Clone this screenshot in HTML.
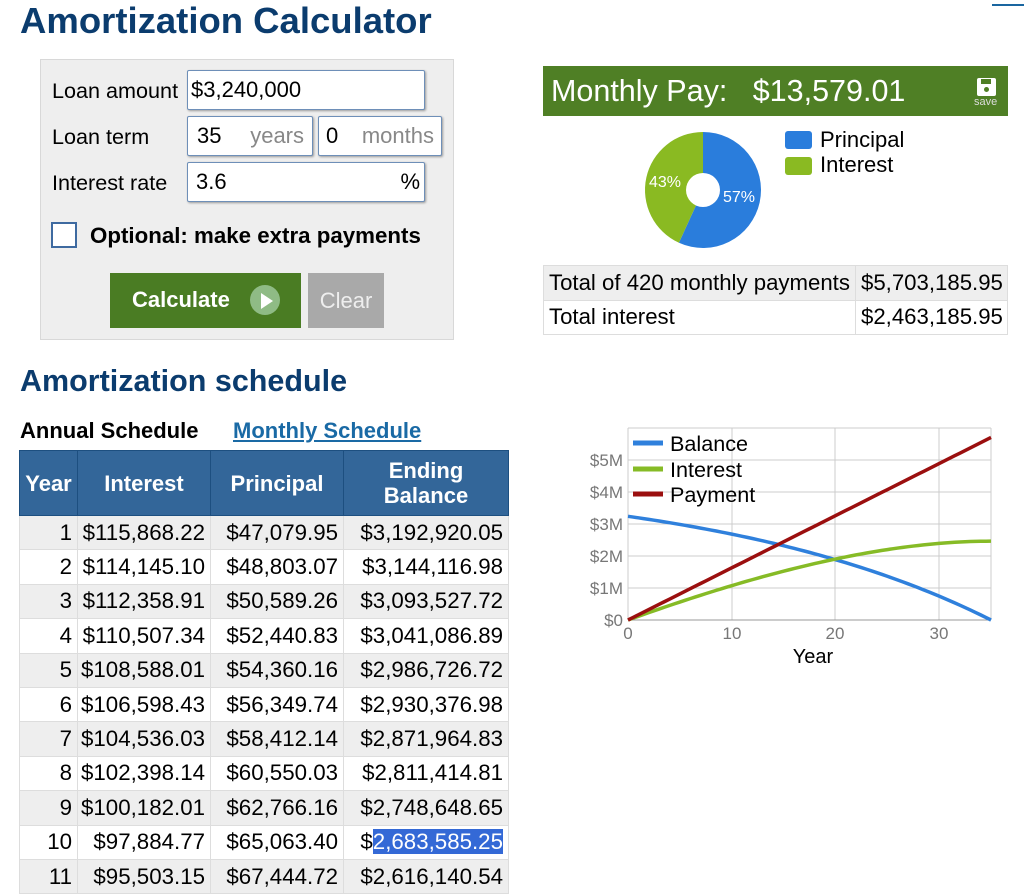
<!DOCTYPE html>
<html><head><meta charset="utf-8">
<style>
*{margin:0;padding:0;box-sizing:border-box}
body{width:1024px;height:871px;overflow:hidden;background:#fff;font-family:"Liberation Sans",Arial,sans-serif;color:#000;position:relative}
.a{position:absolute;white-space:nowrap}
h1{position:absolute;left:20px;top:0px;font-size:36.5px;font-weight:bold;color:#0b3c6e;white-space:nowrap}
.panel{position:absolute;left:40px;top:59px;width:414px;height:281px;background:#eee;border:1px solid #d8d8d8}
.lbl{font-size:21.6px;color:#000}
.inp{position:absolute;background:#fff;border:1px solid #6e8fb8;border-radius:2px;box-shadow:1px 1px 2px #999;font-size:22px;padding-left:3px;line-height:38px;white-space:nowrap}
.gray{color:#888}
.btn{position:absolute;font-size:22px;font-weight:bold;color:#fff;text-align:center}
table{border-collapse:collapse}
.sch{position:absolute;left:19px;top:450px;width:490px;font-size:22.3px}
.sch th{background:#336699;color:#fff;font-weight:bold;border:1px solid #1d4f80;height:65px;line-height:25px;font-size:22px}
.sch td{height:34.4px;text-align:right;padding-right:5px;border:1px solid #ddd;white-space:nowrap}
.sch tr:nth-child(even) td{background:#eee}
.res{position:absolute;left:543px;top:265px;width:465px;font-size:22.2px}
.res td{border:1px solid #ddd;height:34.5px;padding-left:5px;white-space:nowrap}
.ax{font-size:17px;fill:#777;font-family:"Liberation Sans",Arial,sans-serif}
</style></head><body>
<h1>Amortization Calculator</h1>
<div class="a" style="left:992px;top:4px;width:32px;height:2px;background:#1a66a0"></div>

<div class="panel"></div>
<div class="a lbl" style="left:52px;top:78px">Loan amount</div>
<div class="inp" style="left:187px;top:70px;width:238px;height:40px">$3,240,000</div>
<div class="a lbl" style="left:52px;top:124px">Loan term</div>
<div class="inp" style="left:187px;top:116px;width:126px;height:40px;padding-left:9px">35<span class="gray" style="position:absolute;right:8px">years</span></div>
<div class="inp" style="left:318px;top:116px;width:124px;height:40px;padding-left:7px">0<span class="gray" style="position:absolute;right:7px">months</span></div>
<div class="a lbl" style="left:52px;top:170px">Interest rate</div>
<div class="inp" style="left:187px;top:162px;width:238px;height:40px;padding-left:8px">3.6<span style="position:absolute;right:4px">%</span></div>
<div class="a" style="left:51px;top:222px;width:26px;height:26px;background:#fff;border:2px solid #3e6aa0"></div>
<div class="a" style="left:90px;top:223px;font-size:22.3px;font-weight:bold">Optional: make extra payments</div>
<div class="btn" style="left:110px;top:273px;width:191px;height:55px;background:#4a7c23"><span style="position:absolute;left:22px;top:14px">Calculate</span><span style="position:absolute;left:140px;top:12px;width:30px;height:30px;border-radius:50%;background:#8fbb85"></span><span style="position:absolute;left:151px;top:20px;width:0;height:0;border-left:12px solid #fff;border-top:8px solid transparent;border-bottom:8px solid transparent"></span></div>
<div class="btn" style="left:308px;top:273px;width:76px;height:55px;background:#a9a9a9;font-weight:normal;line-height:55px;color:#eee">Clear</div>

<div class="a" style="left:543px;top:66px;width:465px;height:50px;background:#4f7f25;color:#fff;font-size:30.5px;line-height:50px;padding-left:8px">Monthly Pay: &nbsp; $13,579.01</div>
<div class="a" style="left:977px;top:78px;width:19px;height:18px;background:#fff;border-radius:2px"></div>
<div class="a" style="left:981px;top:79px;width:10px;height:5px;background:#4f7f25"></div>
<div class="a" style="left:984px;top:87px;width:5px;height:5px;background:#4f7f25;border-radius:50%"></div>
<div class="a" style="left:974px;top:96px;font-size:11px;color:#ddd">save</div>

<svg class="a" style="left:0;top:0" width="1024" height="871">
<path id="pb" fill="#2a7ddc"/><path id="pg" fill="#8aba22"/>
<circle cx="703" cy="190" r="17" fill="#fff"/>
<text x="649" y="187" font-size="16" fill="#fff" font-family="Liberation Sans">43%</text>
<text x="723" y="202" font-size="16" fill="#fff" font-family="Liberation Sans">57%</text>
<rect x="785" y="131" width="27" height="18" rx="3" fill="#2a7ddc"/>
<rect x="785" y="157" width="27" height="18" rx="3" fill="#8aba22"/>
<text x="820" y="147" font-size="22" font-family="Liberation Sans">Principal</text>
<text x="820" y="172" font-size="22" font-family="Liberation Sans">Interest</text>

<g stroke="#ccc" stroke-width="1">
<line x1="628" y1="428" x2="991" y2="428"/><line x1="628" y1="460" x2="991" y2="460"/><line x1="628" y1="492" x2="991" y2="492"/><line x1="628" y1="524" x2="991" y2="524"/><line x1="628" y1="556" x2="991" y2="556"/><line x1="628" y1="588" x2="991" y2="588"/>
<line x1="732" y1="428" x2="732" y2="620"/><line x1="835" y1="428" x2="835" y2="620"/><line x1="939" y1="428" x2="939" y2="620"/><line x1="991" y1="428" x2="991" y2="620"/><line x1="628" y1="428" x2="628" y2="620"/>
</g>
<line x1="628" y1="620" x2="991" y2="620" stroke="#999"/>
<g class="ax" text-anchor="end">
<text x="623" y="466">$5M</text><text x="623" y="498">$4M</text><text x="623" y="530">$3M</text><text x="623" y="562">$2M</text><text x="623" y="594">$1M</text><text x="623" y="626">$0</text>
</g>
<g class="ax" text-anchor="middle">
<text x="628" y="639">0</text><text x="732" y="639">10</text><text x="835" y="639">20</text><text x="939" y="639">30</text>
</g>
<text x="813" y="663" font-size="20" text-anchor="middle" font-family="Liberation Sans">Year</text>
<path id="lb" fill="none" stroke="#2f80dc" stroke-width="3.5"/>
<path id="li" fill="none" stroke="#86bb26" stroke-width="3.5"/>
<path id="lp" fill="none" stroke="#9b0f0f" stroke-width="3.5"/>
<line x1="633" y1="443" x2="663" y2="443" stroke="#2f80dc" stroke-width="5"/>
<line x1="633" y1="469" x2="663" y2="469" stroke="#86bb26" stroke-width="5"/>
<line x1="633" y1="494" x2="663" y2="494" stroke="#9b0f0f" stroke-width="5"/>
<text x="670" y="451" font-size="21.6" font-family="Liberation Sans">Balance</text>
<text x="670" y="477" font-size="21.6" font-family="Liberation Sans">Interest</text>
<text x="670" y="502" font-size="21.6" font-family="Liberation Sans">Payment</text>
</svg>

<table class="res">
<tr><td style="background:#eee;width:312px">Total of 420 monthly payments</td><td style="background:#eee">$5,703,185.95</td></tr>
<tr><td>Total interest</td><td>$2,463,185.95</td></tr>
</table>

<div class="a" style="left:20px;top:364px;font-size:30.5px;font-weight:bold;color:#0b3c6e">Amortization schedule</div>
<div class="a" style="left:20px;top:418px;font-size:22px;font-weight:bold">Annual Schedule</div>
<div class="a" style="left:233px;top:418px;font-size:22px;font-weight:bold;color:#1a6aa5;text-decoration:underline">Monthly Schedule</div>

<table class="sch">
<tr><th style="width:58px">Year</th><th style="width:133px">Interest</th><th style="width:133px">Principal</th><th>Ending<br>Balance</th></tr>
<tr><td>1</td><td>$115,868.22</td><td>$47,079.95</td><td>$3,192,920.05</td></tr>
<tr><td>2</td><td>$114,145.10</td><td>$48,803.07</td><td>$3,144,116.98</td></tr>
<tr><td>3</td><td>$112,358.91</td><td>$50,589.26</td><td>$3,093,527.72</td></tr>
<tr><td>4</td><td>$110,507.34</td><td>$52,440.83</td><td>$3,041,086.89</td></tr>
<tr><td>5</td><td>$108,588.01</td><td>$54,360.16</td><td>$2,986,726.72</td></tr>
<tr><td>6</td><td>$106,598.43</td><td>$56,349.74</td><td>$2,930,376.98</td></tr>
<tr><td>7</td><td>$104,536.03</td><td>$58,412.14</td><td>$2,871,964.83</td></tr>
<tr><td>8</td><td>$102,398.14</td><td>$60,550.03</td><td>$2,811,414.81</td></tr>
<tr><td>9</td><td>$100,182.01</td><td>$62,766.16</td><td>$2,748,648.65</td></tr>
<tr><td>10</td><td>$97,884.77</td><td>$65,063.40</td><td>$<span style="background:#3469d6;color:#fff">2,683,585.25</span></td></tr>
<tr><td>11</td><td>$95,503.15</td><td>$67,444.72</td><td>$2,616,140.54</td></tr>
</table>

<script>
(function(){
var cx=703,cy=190,R=58,f=0.5681;
function pt(a){return [cx+R*Math.sin(a),cy-R*Math.cos(a)];}
var e=f*2*Math.PI,p=pt(e);
document.getElementById('pb').setAttribute('d','M'+cx+','+cy+'L'+cx+','+(cy-R)+'A'+R+','+R+' 0 1 1 '+p[0]+','+p[1]+'Z');
document.getElementById('pg').setAttribute('d','M'+cx+','+cy+'L'+p[0]+','+p[1]+'A'+R+','+R+' 0 0 1 '+cx+','+(cy-R)+'Z');
var P=3240000,r=0.003,M=13579.01,b='',i='',q='';
function X(y){return 628+y*(991-628)/35}
function Y(v){return 620-v*32/1e6}
for(var y=0;y<=35;y+=0.5){var n=12*y,g=Math.pow(1+r,n),B=Math.max(0,P*g-M*(g-1)/r),pay=M*n,I=pay-(P-B);
var c=(y==0?'M':'L');b+=c+X(y)+','+Y(B);i+=c+X(y)+','+Y(I);q+=c+X(y)+','+Y(pay);}
document.getElementById('lb').setAttribute('d',b);
document.getElementById('li').setAttribute('d',i);
document.getElementById('lp').setAttribute('d',q);
})();
</script>
</body></html>
